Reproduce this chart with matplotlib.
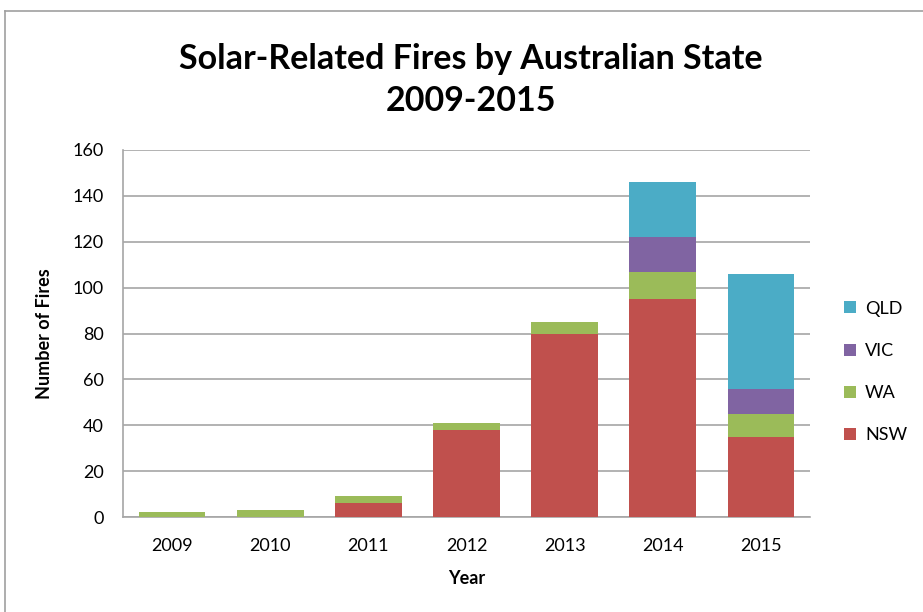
import matplotlib
matplotlib.use("Agg")
from matplotlib import pyplot as plt
from matplotlib.lines import Line2D
import numpy as np

years = ["2009", "2010", "2011", "2012", "2013", "2014", "2015"]
nsw = [0, 0, 6, 38, 80, 95, 35]
wa = [2, 3, 3, 3, 5, 12, 10]
vic = [0, 0, 0, 0, 0, 15, 11]
qld = [0, 0, 0, 0, 0, 24, 50]

colors = {"NSW": "#c0504d", "WA": "#9bbb59", "VIC": "#8064a2", "QLD": "#4bacc6"}

plt.rcParams['font.family'] = ['Lato', 'DejaVu Sans']

fig = plt.figure(figsize=(9.23, 6.12), dpi=100)

# outer frame (only left and top edges visible)
fig.add_artist(Line2D([5/923, 5/923], [0, 1 - 11/612], transform=fig.transFigure, color="#a0a0a0", lw=1.2))
fig.add_artist(Line2D([5/923, 1], [1 - 11/612, 1 - 11/612], transform=fig.transFigure, color="#a0a0a0", lw=1.2))

ax = fig.add_axes([123/923, 1 - 517/612, 687/923, 367/612])

x = np.arange(len(years))
w = 0.68
bottom = np.zeros(len(years))
for name, vals in [("NSW", nsw), ("WA", wa), ("VIC", vic), ("QLD", qld)]:
    ax.bar(x, vals, w, bottom=bottom, color=colors[name], label=name, zorder=3)
    bottom += np.array(vals)

ax.set_xlim(-0.5, 6.5)
ax.set_ylim(0, 160)
ax.set_yticks(range(0, 161, 20))
ax.set_xticks(x)
ax.set_xticklabels(years)
ax.tick_params(length=0, labelsize=13)
ax.tick_params(axis="x", pad=15)
ax.tick_params(axis="y", pad=14)
ax.grid(axis="y", color="#a6a6a6", lw=1.2, zorder=0)
for s in ["top", "right"]:
    ax.spines[s].set_visible(False)
for s in ["left", "bottom"]:
    ax.spines[s].set_color("#a6a6a6")
    ax.spines[s].set_linewidth(1.2)

ax.set_xlabel("Year", fontsize=13, fontweight="bold", labelpad=12)
ax.set_ylabel("Number of Fires", fontsize=13, fontweight="bold", labelpad=14)

fig.text(471/923, 1 - 80/612, "Solar-Related Fires by Australian State\n2009-2015",
         ha="center", va="center", fontsize=24.5, fontweight="bold", linespacing=1.38)

handles, labels = ax.get_legend_handles_labels()
fig.legend(handles[::-1], labels[::-1], loc="center left", bbox_to_anchor=(828/923, 1 - 372/612),
           frameon=False, fontsize=13, handlelength=0.65, handleheight=0.65, labelspacing=1.45,
           handletextpad=0.5)

fig.savefig("out.png", dpi=100)
